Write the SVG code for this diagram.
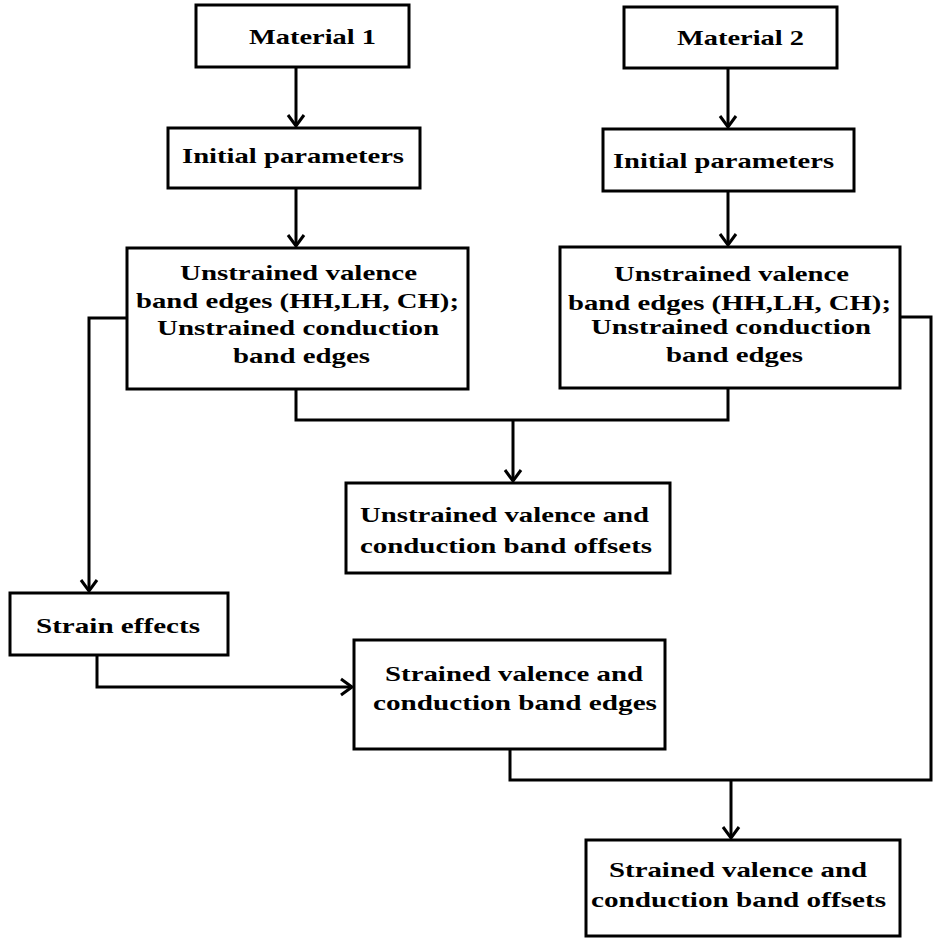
<svg xmlns="http://www.w3.org/2000/svg" width="933" height="938" viewBox="0 0 933 938">
<style>
.box{fill:#fff;stroke:#000;stroke-width:3}
.t{font-family:"Liberation Serif","Times New Roman",serif;font-weight:bold;font-size:22px;fill:#000}
.c{fill:none;stroke:#000;stroke-width:3}
</style>
<defs>
<marker id="ah" markerUnits="userSpaceOnUse" markerWidth="20" markerHeight="20" refX="0" refY="0" viewBox="-12 -10 14 20" orient="auto">
<path d="M-11,-8 L0,0 L-11,8" fill="none" stroke="#000" stroke-width="3"/>
</marker>
</defs>
<rect width="933" height="938" fill="#fff"/>
<g id="connectors">
<path class="c" d="M296,67 V126" marker-end="url(#ah)"/>
<path class="c" d="M296,188 V246" marker-end="url(#ah)"/>
<path class="c" d="M728,68 V127" marker-end="url(#ah)"/>
<path class="c" d="M728,191 V245" marker-end="url(#ah)"/>
<path class="c" d="M296,389 V420 H728 V388"/>
<path class="c" d="M513,420 V481" marker-end="url(#ah)"/>
<path class="c" d="M127,318 H89 V591" marker-end="url(#ah)"/>
<path class="c" d="M97,655 V687 H352" marker-end="url(#ah)"/>
<path class="c" d="M900,317 H931 V780 H510 V749"/>
<path class="c" d="M731,780 V838" marker-end="url(#ah)"/>
</g>
<g id="material1">
<rect class="box" x="196" y="5" width="213" height="62"/>
<text class="t" x="249" y="44" textLength="127" lengthAdjust="spacingAndGlyphs">Material 1</text>
</g>
<g id="material2">
<rect class="box" x="624" y="7" width="213" height="61"/>
<text class="t" x="677" y="45" textLength="127" lengthAdjust="spacingAndGlyphs">Material 2</text>
</g>
<g id="init1">
<rect class="box" x="168" y="128" width="252" height="60"/>
<text class="t" x="182" y="163" textLength="222" lengthAdjust="spacingAndGlyphs">Initial parameters</text>
</g>
<g id="init2">
<rect class="box" x="603" y="129" width="251" height="62"/>
<text class="t" x="613" y="168" textLength="221" lengthAdjust="spacingAndGlyphs">Initial parameters</text>
</g>
<g id="unstrained1">
<rect class="box" x="127" y="248" width="341" height="141"/>
<text class="t" x="180" y="280" textLength="237" lengthAdjust="spacingAndGlyphs">Unstrained valence</text>
<text class="t" x="136" y="308" textLength="323" lengthAdjust="spacingAndGlyphs">band edges (HH,LH, CH);</text>
<text class="t" x="157" y="335" textLength="282" lengthAdjust="spacingAndGlyphs">Unstrained conduction</text>
<text class="t" x="233" y="363" textLength="137" lengthAdjust="spacingAndGlyphs">band edges</text>
</g>
<g id="unstrained2">
<rect class="box" x="560" y="247" width="340" height="141"/>
<text class="t" x="614" y="281" textLength="235" lengthAdjust="spacingAndGlyphs">Unstrained valence</text>
<text class="t" x="568" y="310" textLength="323" lengthAdjust="spacingAndGlyphs">band edges (HH,LH, CH);</text>
<text class="t" x="591" y="334" textLength="280" lengthAdjust="spacingAndGlyphs">Unstrained conduction</text>
<text class="t" x="666" y="362" textLength="137" lengthAdjust="spacingAndGlyphs">band edges</text>
</g>
<g id="unstrainedOffsets">
<rect class="box" x="346" y="483" width="324" height="90"/>
<text class="t" x="360" y="522" textLength="289" lengthAdjust="spacingAndGlyphs">Unstrained valence and</text>
<text class="t" x="360" y="553" textLength="292" lengthAdjust="spacingAndGlyphs">conduction band offsets</text>
</g>
<g id="strainEffects">
<rect class="box" x="10" y="593" width="218" height="62"/>
<text class="t" x="36" y="633" textLength="164" lengthAdjust="spacingAndGlyphs">Strain effects</text>
</g>
<g id="strainedEdges">
<rect class="box" x="354" y="640" width="311" height="109"/>
<text class="t" x="385" y="681" textLength="258" lengthAdjust="spacingAndGlyphs">Strained valence and</text>
<text class="t" x="373" y="710" textLength="284" lengthAdjust="spacingAndGlyphs">conduction band edges</text>
</g>
<g id="strainedOffsets">
<rect class="box" x="586" y="840" width="314" height="96"/>
<text class="t" x="609" y="877" textLength="258" lengthAdjust="spacingAndGlyphs">Strained valence and</text>
<text class="t" x="591" y="907" textLength="295" lengthAdjust="spacingAndGlyphs">conduction band offsets</text>
</g>
</svg>
